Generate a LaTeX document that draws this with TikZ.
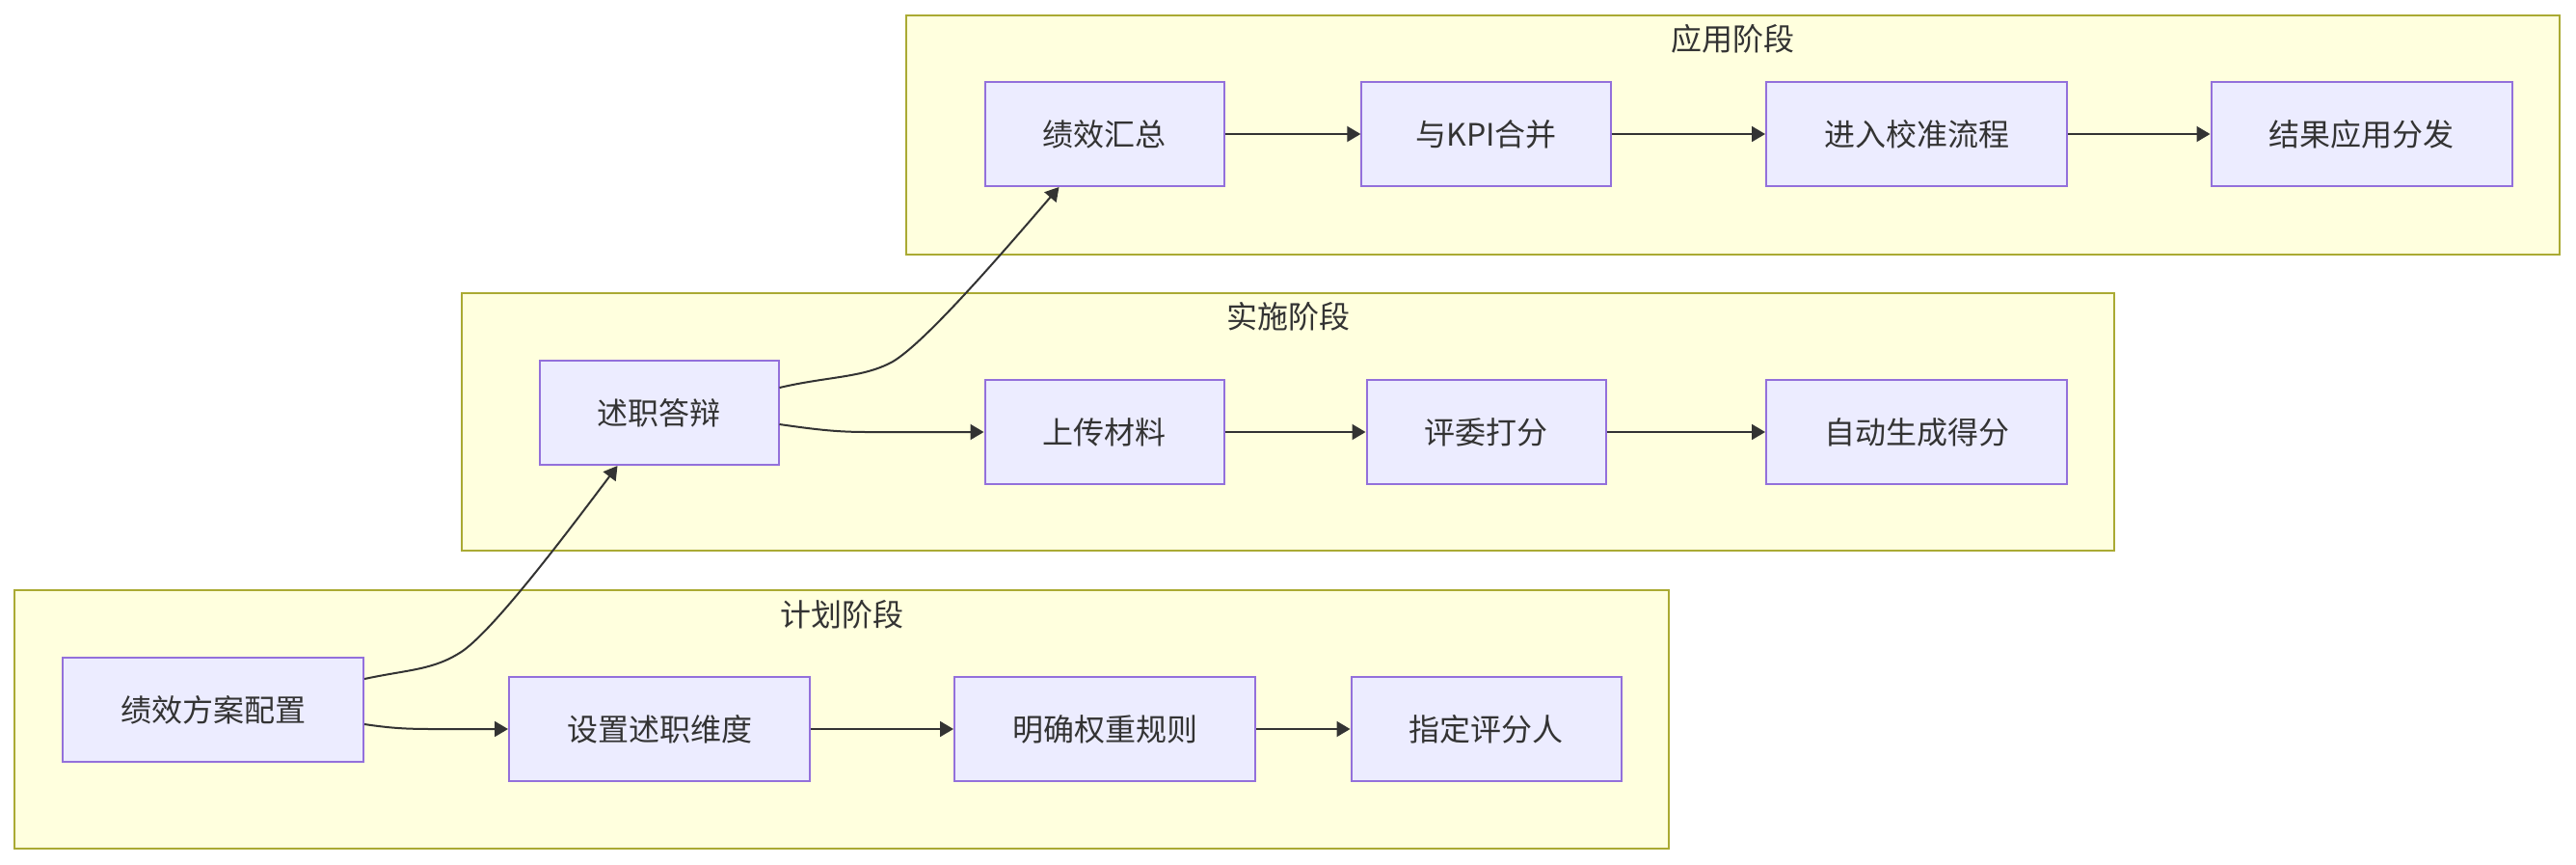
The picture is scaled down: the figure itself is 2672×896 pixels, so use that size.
\documentclass[tikz,border=0pt]{standalone}
\usepackage{fontspec}
\setmainfont{Noto Sans CJK SC}
\usetikzlibrary{arrows.meta,calc}
\definecolor{stagefill}{HTML}{FFFFDE}
\definecolor{stageline}{HTML}{AAAA33}
\definecolor{boxfill}{HTML}{ECECFF}
\definecolor{boxline}{HTML}{9370DB}
\definecolor{ink}{HTML}{333333}
\tikzset{
  stage/.style = {draw = stageline, fill = stagefill, line width = 1pt},
  title/.style = {text = ink, font = \fontsize{16}{19}\selectfont},
  box/.style = {draw = boxline, fill = boxfill, line width = 1pt, minimum height = 54pt,
    inner xsep = 30pt, text = ink, font = \fontsize{16}{19}\selectfont},
  flow/.style = {draw = ink, line width = 1pt, -{Triangle[length=7pt,width=8pt]}}
}

\begin{document}
\begin{tikzpicture}[x = 0.5pt, y = -0.5pt]
\useasboundingbox (0,0) rectangle (2672,896);
% stages
\draw [stage] (940,16) rectangle (2655,264);
\draw [stage] (479,304) rectangle (2193,571);
\draw [stage] (15,612) rectangle (1731,880);
\node [title] (tuse) at (1797,40) {应用阶段};
\node [title] (tdo) at (1336,328) {实施阶段};
\node [title] (tplan) at (873,637) {计划阶段};
% boxes
\node [box] (use1) at (1145.5,139) {绩效汇总};
\node [box, inner xsep = 28pt] (use2) at (1541.5,139) {与KPI合并};
\node [box] (use3) at (1988,139) {进入校准流程};
\node [box] (use4) at (2449.5,139) {结果应用分发};
\node [box] (do1) at (683.5,428) {述职答辩};
\node [box] (do2) at (1145.5,448) {上传材料};
\node [box] (do3) at (1541.5,448) {评委打分};
\node [box] (do4) at (1988,448) {自动生成得分};
\node [box] (plan1) at (221,736) {绩效方案配置};
\node [box] (plan2) at (684,756) {设置述职维度};
\node [box] (plan3) at (1146,756) {明确权重规则};
\node [box] (plan4) at (1541.5,756) {指定评分人};
% arrows
\draw [flow] ($(plan1.east)+(0,-32)$) .. controls (425,694) and (450,695) .. (480,675)
  .. controls (515,650) and (590,550) .. ($(do1.south)+(-43,0)$);
\draw [flow] ($(plan1.east)+(0,15)$) .. controls (405,755) and (420,756) .. (450,756) -- (plan2.west);
\draw [flow] (plan2) -- (plan3);
\draw [flow] (plan3) -- (plan4);
\draw [flow] ($(do1.east)+(0,-26)$) .. controls (860,390) and (895,392) .. (926,375)
  .. controls (960,355) and (1040,262) .. ($(use1.south)+(-47,0)$);
\draw [flow] ($(do1.east)+(0,12)$) .. controls (850,446) and (870,448) .. (900,448) -- (do2.west);
\draw [flow] (do2) -- (do3);
\draw [flow] (do3) -- (do4);
\draw [flow] (use1) -- (use2);
\draw [flow] (use2) -- (use3);
\draw [flow] (use3) -- (use4);
\end{tikzpicture}
\end{document}
